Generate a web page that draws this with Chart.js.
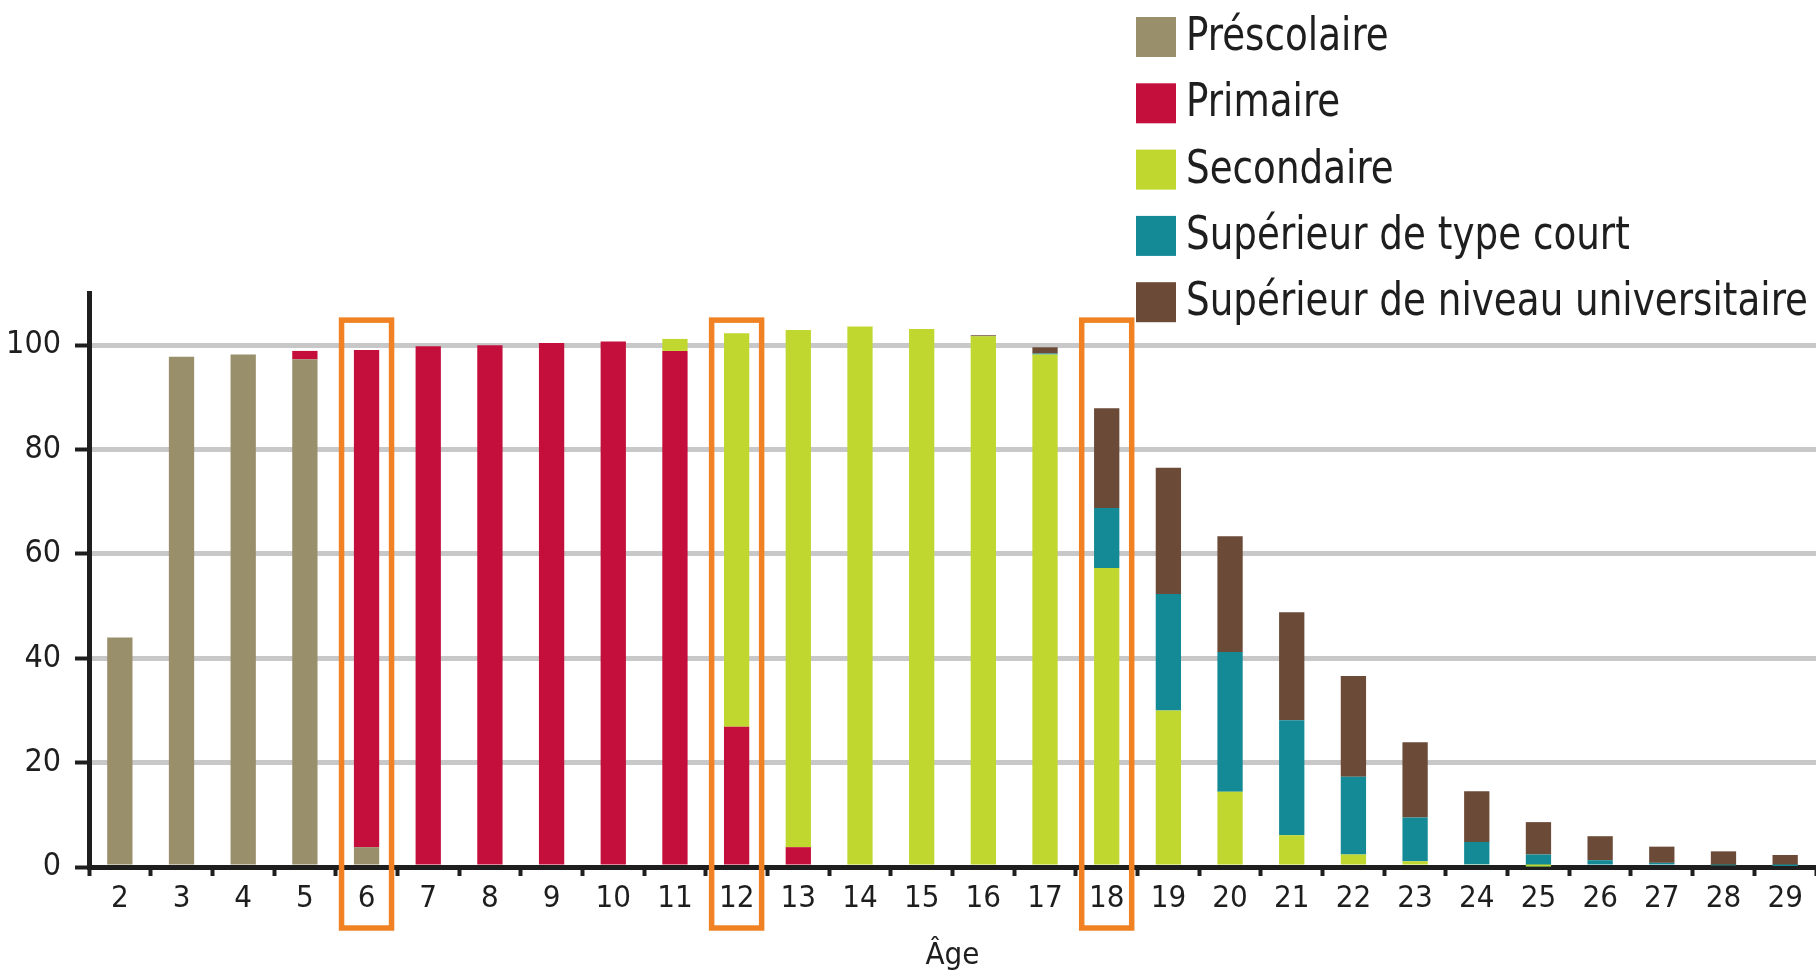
<!DOCTYPE html>
<html lang="fr">
<head>
<meta charset="utf-8">
<script src="https://cdn.jsdelivr.net/npm/chart.js@4"></script>
<style>
  html, body { margin: 0; padding: 0; background: #fff; }
  #wrap { width: 1816px; height: 975px; position: relative; }
</style>
</head>
<body>
<div id="wrap"><canvas id="chart"></canvas></div>
<script>
const ages = ["2","3","4","5","6","7","8","9","10","11","12","13","14","15","16","17","18","19","20","21","22","23","24","25","26","27","28","29"];

const prescolaire = [44, 97.8, 98.2, 97.3, 3.8, 0, 0, 0, 0, 0, 0, 0, 0, 0, 0, 0, 0, 0, 0, 0, 0, 0, 0, 0, 0, 0, 0, 0];
const primaire    = [0, 0, 0, 1.6, 95.3, 99.8, 100, 100.4, 100.7, 98.9, 26.9, 3.8, 0, 0, 0, 0, 0, 0, 0, 0, 0, 0, 0, 0, 0, 0, 0, 0];
const secondaire  = [0, 0, 0, 0, 0, 0, 0, 0, 0, 2.3, 75.4, 99.1, 103.6, 103.1, 101.7, 98.2, 57.3, 30.0, 14.4, 6.1, 2.4, 1.1, 0.5, 0.1, 0, 0, 0, 0];
const supCourt    = [0, 0, 0, 0, 0, 0, 0, 0, 0, 0, 0, 0, 0, 0, 0, 0.2, 11.5, 22.3, 26.8, 22.0, 14.9, 8.4, 4.3, 2.3, 1.3, 0.8, 0.3, 0.2];
const supUniv     = [0, 0, 0, 0, 0, 0, 0, 0, 0, 0, 0, 0, 0, 0, 0.2, 1.2, 19.1, 24.2, 22.2, 20.7, 19.3, 14.4, 9.7, 6.2, 4.6, 3.1, 2.7, 2.1];

const highlighted = ["6", "12", "18"];

const FONT = "'DejaVu Sans Condensed', 'Liberation Sans Narrow', 'Open Sans', sans-serif";
const INK = "#1e1e1e";

// légende dessinée à la main, en haut à droite (texte resserré comme l'original)
const legendPlugin = {
  id: "cornerLegend",
  afterDraw(chart) {
    const ctx = chart.ctx;
    ctx.save();
    ctx.font = "46px " + FONT;
    ctx.textBaseline = "middle";
    const widest = Math.max(...chart.data.datasets.map(d => ctx.measureText(d.label).width));
    const squeeze = Math.min(1, 622 / widest);
    chart.data.datasets.forEach((ds, i) => {
      const y = 37 + i * 66.3;
      ctx.fillStyle = ds.backgroundColor;
      ctx.fillRect(1136, y - 20, 40, 40);
      ctx.fillStyle = INK;
      const w = ctx.measureText(ds.label).width;
      ctx.fillText(ds.label, 1186, y + 1, w * squeeze);
    });
    ctx.restore();
  }
};

// cadres orange autour des âges 6, 12 et 18
const framePlugin = {
  id: "ageFrames",
  afterDraw(chart) {
    const ctx = chart.ctx;
    const x = chart.scales.x, y = chart.scales.y;
    const w = 50;
    ctx.save();
    ctx.strokeStyle = "#f08224";
    ctx.lineWidth = 5.5;
    highlighted.forEach(a => {
      const cx = x.getPixelForValue(ages.indexOf(a));
      const top = y.getPixelForValue(104.8);
      ctx.strokeRect(cx - w / 2, top, w, 928 - top);
    });
    ctx.restore();
  }
};

new Chart(document.getElementById("chart"), {
  type: "bar",
  data: {
    labels: ages,
    datasets: [
      { label: "Préscolaire", data: prescolaire, backgroundColor: "#9a8f6b" },
      { label: "Primaire", data: primaire, backgroundColor: "#c40f3c" },
      { label: "Secondaire", data: secondaire, backgroundColor: "#c0d72f" },
      { label: "Supérieur de type court", data: supCourt, backgroundColor: "#138a96" },
      { label: "Supérieur de niveau universitaire", data: supUniv, backgroundColor: "#6b4a37" }
    ]
  },
  options: {
    responsive: true,
    maintainAspectRatio: false,
    animation: false,
    layout: { padding: { top: 293, right: 0, left: 0, bottom: 0 } },
    datasets: { bar: { barPercentage: 0.41, categoryPercentage: 1 } },
    plugins: {
      legend: { display: false },
      tooltip: { enabled: false }
    },
    scales: {
      x: {
        stacked: true,
        offset: true,
        afterFit: s => { s.height = 108; },
        grid: {
          offset: true,
          drawOnChartArea: false,
          drawTicks: true,
          tickLength: 9,
          tickWidth: 4,
          tickColor: INK
        },
        border: { color: INK, width: 5 },
        ticks: { color: INK, font: { family: FONT, size: 31 }, padding: 4, maxRotation: 0, autoSkip: false },
        title: { display: true, text: "Âge", color: INK, font: { family: FONT, size: 31 }, padding: { top: 6, bottom: 0 } }
      },
      y: {
        stacked: true,
        min: 0,
        max: 110,
        afterFit: s => { s.width = 89; },
        afterBuildTicks: s => { s.ticks = s.ticks.filter(t => t.value <= 100); },
        grid: {
          color: "#c8c8c8",
          lineWidth: 5,
          drawTicks: true,
          tickLength: 14,
          tickWidth: 4,
          tickColor: INK
        },
        border: { color: INK, width: 5 },
        ticks: { stepSize: 20, color: INK, font: { family: FONT, size: 32 }, padding: 14 }
      }
    }
  },
  plugins: [legendPlugin, framePlugin]
});
</script>
</body>
</html>
